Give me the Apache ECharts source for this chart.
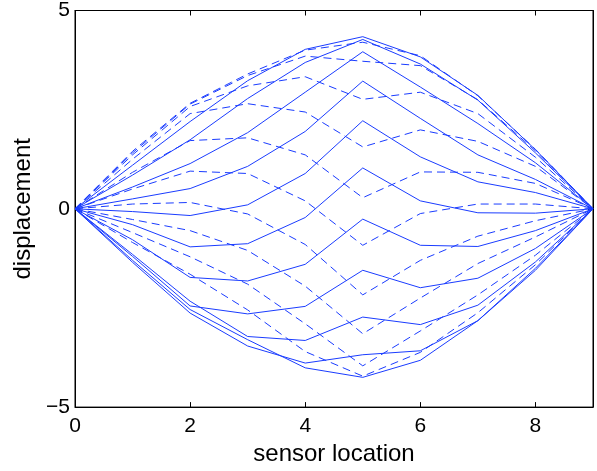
<!DOCTYPE html>
<html><head><meta charset="utf-8">
<script src="https://cdn.jsdelivr.net/npm/echarts@6/dist/echarts.min.js"></script>
<style>html,body{margin:0;padding:0;background:#fff}#c{width:597px;height:471px}</style>
</head><body><div id="c"></div>
<script>
// sensor locations
const xs = [0, 1, 2, 3, 4, 5, 6, 7, 8, 9];
// solid snapshots
const solid1  = [0, 1.10, 2.20, 3.23, 4.02, 4.34, 3.83, 2.86, 1.49, 0];
const solid2  = [0, 0.85, 1.74, 2.78, 3.69, 4.27, 3.65, 2.74, 1.41, 0];
const solid3  = [0, 0.55, 1.14, 1.92, 2.94, 3.96, 3.07, 2.15, 1.16, 0];
const solid4  = [0, 0.25, 0.51, 1.07, 1.95, 3.22, 2.28, 1.36, 0.74, 0];
const solid5  = [0, -0.07, -0.17, 0.10, 0.89, 2.22, 1.31, 0.68, 0.41, 0];
const solid6  = [0, -0.40, -0.96, -0.88, -0.22, 1.03, 0.20, -0.10, -0.11, 0];
const solid7  = [0, -0.78, -1.73, -1.82, -1.40, -0.26, -0.92, -0.95, -0.55, 0];
const solid8  = [0, -1.20, -2.45, -2.65, -2.46, -1.55, -1.99, -1.75, -1.00, 0];
const solid9  = [0, -1.15, -2.33, -3.22, -3.32, -2.73, -2.92, -2.43, -1.34, 0];
const solid10 = [0, -1.35, -2.63, -3.46, -3.89, -3.68, -3.58, -2.82, -1.55, 0];
const solid11 = [0, -1.30, -2.54, -3.30, -4.01, -4.25, -3.82, -2.82, -1.50, 0];
// dashed snapshots
const dashed0 = [0, 1.45, 2.66, 3.40, 4.00, 4.20, 3.86, 2.85, 1.50, 0];
const dashed1 = [0, 1.41, 2.64, 3.36, 3.85, 3.72, 3.61, 2.75, 1.46, 0];
const dashed2 = [0, 1.36, 2.58, 3.10, 3.33, 2.76, 2.94, 2.40, 1.30, 0];
const dashed3 = [0, 1.25, 2.40, 2.65, 2.44, 1.56, 1.99, 1.70, 1.07, 0];
const dashed4 = [0, 0.92, 1.72, 1.79, 1.36, 0.28, 0.93, 0.92, 0.64, 0];
const dashed5 = [0, 0.50, 0.95, 0.89, 0.20, -0.92, -0.12, 0.12, 0.12, 0];
const dashed6 = [0, 0.12, 0.16, -0.13, -0.90, -2.17, -1.30, -0.69, -0.30, 0];
const dashed7 = [0, -0.27, -0.55, -1.05, -1.95, -3.15, -2.25, -1.38, -0.71, 0];
const dashed8 = [0, -0.60, -1.21, -1.90, -2.90, -3.96, -3.08, -2.17, -1.17, 0];
const dashed9 = [0, -0.85, -1.65, -2.55, -3.60, -4.22, -3.62, -2.62, -1.41, 0];
// tick labels
const xTicks = [0, 2, 4, 6, 8];
const yTicks = [-5, 0, 5];

const solidLines = [solid1, solid2, solid3, solid4, solid5, solid6, solid7, solid8, solid9, solid10, solid11];
const dashedLines = [dashed0, dashed1, dashed2, dashed3, dashed4, dashed5, dashed6, dashed7, dashed8, dashed9];

const BLUE = '#1a3cff';
const FONT = 'Liberation Sans';

const series = [];
function addLine(vals, type) {
  series.push({
    type: 'line',
    data: xs.map((x, i) => [x, vals[i]]),
    symbol: 'none',
    silent: true,
    lineStyle: { color: BLUE, width: 1, type: type },
    z: 2
  });
}
solidLines.forEach(v => addLine(v, 'solid'));
dashedLines.forEach(v => addLine(v, [8, 5]));

const fmtY = v => String(v).replace('-', '\u2212');

const chart = echarts.init(document.getElementById('c'), null, { renderer: 'canvas' });
chart.setOption({
  animation: false,
  backgroundColor: '#fff',
  grid: { left: 75, right: 4, top: 9, bottom: 61, show: true, borderColor: '#000', borderWidth: 1 },
  xAxis: [
    {
      type: 'value', min: 0, max: 9, position: 'bottom',
      name: 'sensor location', nameLocation: 'middle', nameGap: 32,
      nameTextStyle: { fontFamily: FONT, fontSize: 24, color: '#000' },
      axisLine: { show: true, onZero: false, lineStyle: { color: '#000', width: 1 } },
      axisTick: { show: true, inside: true, length: 5, customValues: xTicks, lineStyle: { color: '#000' } },
      axisLabel: { customValues: xTicks, fontFamily: FONT, fontSize: 21, color: '#000', margin: 9 },
      splitLine: { show: false }
    },
    {
      type: 'value', min: 0, max: 9, position: 'top',
      axisLine: { show: true, onZero: false, lineStyle: { color: '#000', width: 1 } },
      axisTick: { show: true, inside: true, length: 5, customValues: xTicks, lineStyle: { color: '#000' } },
      axisLabel: { show: false },
      splitLine: { show: false }
    }
  ],
  yAxis: [
    {
      type: 'value', min: -5, max: 5, position: 'left',
      name: 'displacement', nameLocation: 'middle', nameGap: 40,
      nameTextStyle: { fontFamily: FONT, fontSize: 24, color: '#000' },
      axisLine: { show: true, onZero: false, lineStyle: { color: '#000', width: 1 } },
      axisTick: { show: true, inside: true, length: 5, customValues: yTicks, lineStyle: { color: '#000' } },
      axisLabel: { customValues: yTicks, fontFamily: FONT, fontSize: 21, color: '#000', margin: 5, formatter: fmtY },
      splitLine: { show: false }
    },
    {
      type: 'value', min: -5, max: 5, position: 'right',
      axisLine: { show: true, onZero: false, lineStyle: { color: '#000', width: 1 } },
      axisTick: { show: true, inside: true, length: 5, customValues: yTicks, lineStyle: { color: '#000' } },
      axisLabel: { show: false },
      splitLine: { show: false }
    }
  ],
  series: series
});
</script></body></html>
